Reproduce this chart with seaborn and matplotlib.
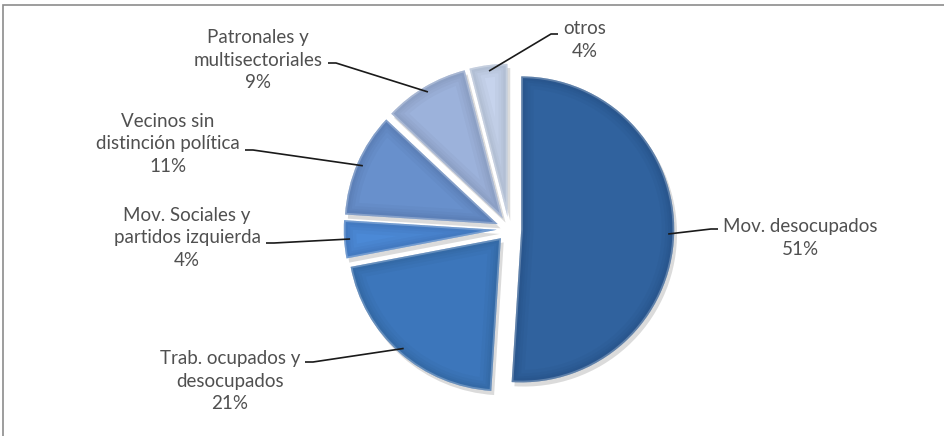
import matplotlib
matplotlib.use("Agg")
import matplotlib.pyplot as plt
import matplotlib.patches as mpatches
import matplotlib.patheffects as pe
import seaborn as sns
import numpy as np

# ---- data ----
categories = ["Mov. desocupados", "Trab. ocupados y\ndesocupados", "Mov. Sociales y\npartidos izquierda",
              "Vecinos sin\ndistinción política", "Patronales y\nmultisectoriales", "otros"]
values = [51, 21, 4, 11, 9, 4]
pct_labels = ["51%", "21%", "4%", "11%", "9%", "4%"]

# ---- style / layout ----
sns.set_theme(style="white")
plt.rcParams['font.family'] = ['Lato', 'DejaVu Sans']
colors = sns.color_palette(["#30629E", "#3C76BB", "#4B89D6", "#6890CC", "#9CB2DB", "#C6D3EC"])

W, H = 944, 436
fig = plt.figure(figsize=(W / 100, H / 100), dpi=100)
ax = fig.add_axes([0, 0, 1, 1])

cx, cy, R = 509, 229, 153
expl = 0.08 * R

wedges, _ = ax.pie(values, colors=colors, startangle=90, counterclock=False,
                   explode=[expl] * len(values), radius=R, center=(cx, H - cy),
                   wedgeprops=dict(linewidth=0))
for w, c in zip(wedges, colors):
    w.set_path_effects([pe.SimplePatchShadow(offset=(2, -3), shadow_rgbFace=(0.3, 0.3, 0.3), alpha=0.2),
                        pe.Normal()])
    # soft darkening toward the edges (bevel-like gradient)
    for lw in (18, 13, 9, 6):
        dk = mpatches.Wedge(w.center, w.r, w.theta1, w.theta2, facecolor='none',
                            edgecolor='black', linewidth=lw, alpha=0.025)
        ax.add_patch(dk)
        dk.set_clip_path(w)
    hl = mpatches.Wedge(w.center, w.r, w.theta1, w.theta2, facecolor='none',
                        edgecolor='white', linewidth=2.5, alpha=0.25)
    ax.add_patch(hl)
    hl.set_clip_path(w)

ax.set_xlim(0, W)
ax.set_ylim(0, H)
ax.set_aspect('equal')
ax.axis('off')

# label text centres, and leader stub points (pixel coords, y from top)
text_pos = [(800, 238), (230, 381), (187, 238), (168, 144), (258, 60), (585, 40)]
stub_end = [(718, 229), (305, 362), (266, 243), (245, 150), (328, 63), (558, 34)]
stub_elbow = [(711, 229), (313, 362), (274, 243), (253, 150), (336, 63), (551, 34)]

for w, cat, pl, tp, se, el in zip(wedges, categories, pct_labels, text_pos, stub_end, stub_elbow):
    mid = np.deg2rad((w.theta1 + w.theta2) / 2)
    ax_x = w.center[0] + (w.r - 6) * np.cos(mid)
    ax_y = w.center[1] + (w.r - 6) * np.sin(mid)
    ax.plot([ax_x, el[0], se[0]], [ax_y, H - el[1], H - se[1]], color='#1a1a1a', lw=1.2,
            solid_capstyle='butt', zorder=5)
    ax.text(tp[0], H - tp[1], cat + "\n" + pl, ha='center', va='center', fontsize=13.5,
            color='#505050', linespacing=1.42, zorder=6)

# chart frame
fig.add_artist(mpatches.Rectangle((3 / W, -0.05), 1.2, (H - 5) / H + 0.05, transform=fig.transFigure,
                                  fill=False, edgecolor='#8c8c8c', linewidth=1.2))

fig.savefig("out.png", dpi=100)
